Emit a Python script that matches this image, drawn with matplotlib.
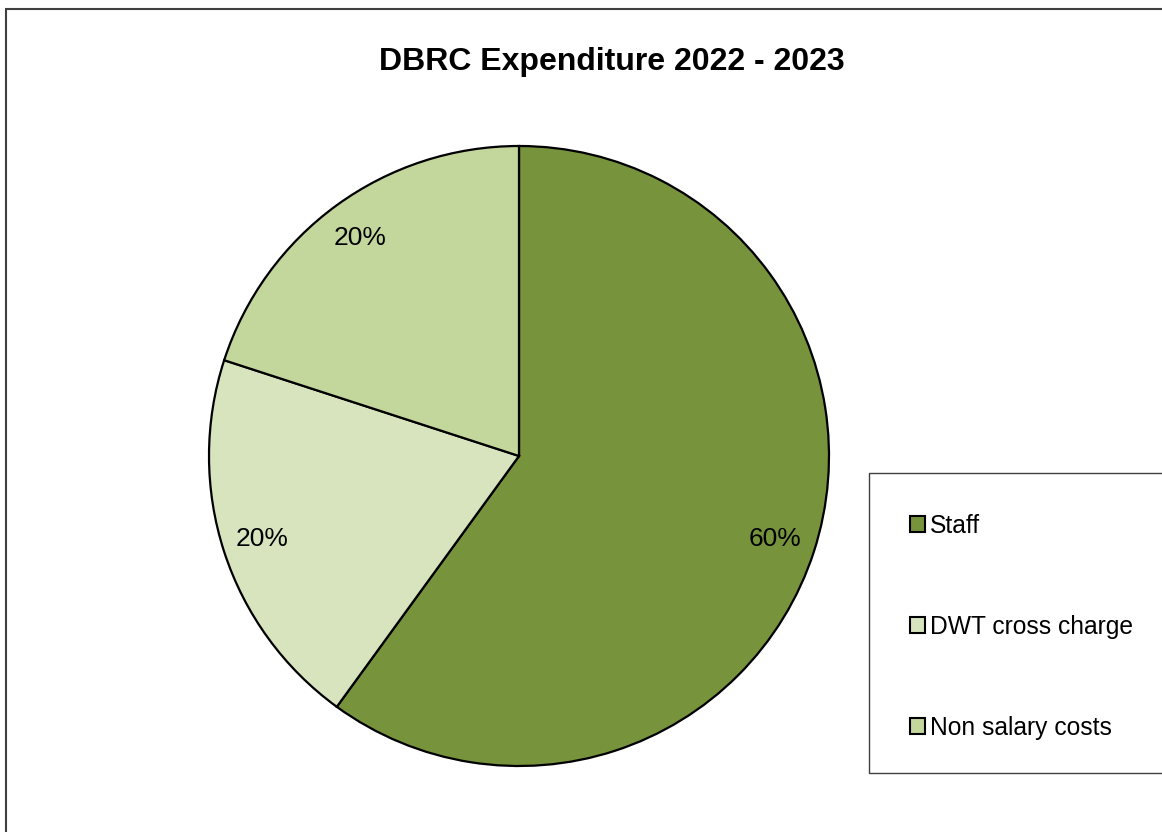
import matplotlib
matplotlib.use("Agg")
import matplotlib.pyplot as plt
from matplotlib.patches import Rectangle

plt.rcParams['font.family'] = ['Liberation Sans', 'DejaVu Sans']

categories = ["Staff", "DWT cross charge", "Non salary costs"]
values = [60, 20, 20]
colors = ["#77933C", "#D7E4BD", "#C3D69B"]
title = "DBRC Expenditure 2022 - 2023"

W, H = 1162, 832
fig = plt.figure(figsize=(W / 100, H / 100), dpi=100)
ax = fig.add_axes([0, 0, 1, 1])

wedges, texts, autotexts = ax.pie(
    values, colors=colors, startangle=90, counterclock=False,
    center=(519, H - 456), radius=310,
    autopct=lambda p: f"{p:.0f}%", pctdistance=0.87,
    wedgeprops=dict(edgecolor="black", linewidth=1.6),
    textprops=dict(fontsize=19, color="black"),
)
ax.set_xlim(0, W)
ax.set_ylim(0, H)
ax.set_aspect('auto')
ax.axis('off')

# outer chart border
fig.patches.append(Rectangle((6 / W, -0.1), 1.2, (H - 9) / H + 0.1, transform=fig.transFigure,
                             fill=False, edgecolor="#404040", linewidth=1.5))
# legend box
fig.patches.append(Rectangle((869 / W, (H - 773) / H), 1.0, 300 / H, transform=fig.transFigure,
                             fill=False, edgecolor="#404040", linewidth=1.0))

fig.text(612 / W, 1 - 62 / H, title, ha="center", va="center", fontsize=23, fontweight="bold")

leg = fig.legend(wedges, categories, loc="upper left",
                 bbox_to_anchor=(910 / W, 1 - 514 / H), frameon=False,
                 fontsize=17.7, handlelength=0.62, handleheight=0.62,
                 handletextpad=0.2, labelspacing=3.13, borderpad=0, borderaxespad=0)
for h in leg.legend_handles:
    h.set_edgecolor("black")
    h.set_linewidth(1.5)

fig.savefig("out.png", dpi=100)
